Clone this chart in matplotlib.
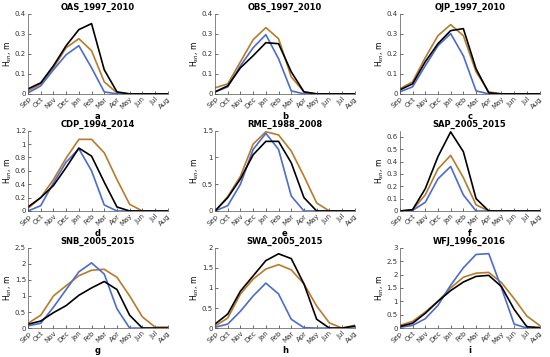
import matplotlib
matplotlib.use('Agg')
import matplotlib.pyplot as plt
import numpy as np

# data
months = ['Sep', 'Oct', 'Nov', 'Dec', 'Jan', 'Feb', 'Mar', 'Apr', 'May', 'Jun', 'Jul', 'Aug']
titles = ['OAS_1997_2010', 'OBS_1997_2010', 'OJP_1997_2010',
          'CDP_1994_2014', 'RME_1988_2008', 'SAP_2005_2015',
          'SNB_2005_2015', 'SWA_2005_2015', 'WFJ_1996_2016']
letters = ['a', 'b', 'c', 'd', 'e', 'f', 'g', 'h', 'i']

black_a = [0.025, 0.055, 0.14, 0.24, 0.32, 0.35, 0.12, 0.01, 0, 0, 0, 0]
brown_a = [0.015, 0.05, 0.13, 0.23, 0.275, 0.215, 0.06, 0.005, 0, 0, 0, 0]
blue_a = [0.005, 0.04, 0.12, 0.195, 0.24, 0.13, 0.01, 0, 0, 0, 0, 0]

black_b = [0.01, 0.04, 0.13, 0.19, 0.255, 0.25, 0.11, 0.01, 0, 0, 0, 0]
brown_b = [0.03, 0.05, 0.16, 0.27, 0.33, 0.275, 0.085, 0.01, 0, 0, 0, 0]
blue_b = [0.01, 0.035, 0.14, 0.23, 0.295, 0.175, 0.015, 0, 0, 0, 0, 0]

black_c = [0.02, 0.05, 0.16, 0.25, 0.315, 0.325, 0.125, 0.005, 0, 0, 0, 0]
brown_c = [0.025, 0.06, 0.18, 0.29, 0.345, 0.29, 0.11, 0.01, 0, 0, 0, 0]
blue_c = [0.01, 0.035, 0.14, 0.24, 0.30, 0.19, 0.015, 0, 0, 0, 0, 0]

black_d = [0.06, 0.2, 0.38, 0.65, 0.94, 0.82, 0.43, 0.06, 0, 0, 0, 0]
brown_d = [0.04, 0.2, 0.47, 0.79, 1.07, 1.07, 0.87, 0.47, 0.1, 0, 0, 0]
blue_d = [0.0, 0.08, 0.42, 0.73, 0.93, 0.6, 0.09, 0.0, 0, 0, 0, 0]

black_e = [0.0, 0.25, 0.6, 1.05, 1.3, 1.3, 0.9, 0.25, 0, 0, 0, 0]
brown_e = [0.0, 0.27, 0.65, 1.25, 1.48, 1.42, 1.12, 0.65, 0.15, 0, 0, 0]
blue_e = [0.0, 0.1, 0.5, 1.15, 1.45, 1.15, 0.28, 0, 0, 0, 0, 0]

black_f = [0, 0.01, 0.18, 0.44, 0.64, 0.48, 0.1, 0, 0, 0, 0, 0]
brown_f = [0, 0.01, 0.13, 0.34, 0.45, 0.27, 0.05, 0, 0, 0, 0, 0]
blue_f = [0, 0.005, 0.07, 0.26, 0.36, 0.13, 0, 0, 0, 0, 0, 0]

black_g = [0.12, 0.22, 0.48, 0.7, 1.02, 1.25, 1.45, 1.2, 0.4, 0, 0, 0]
brown_g = [0.15, 0.4, 1.0, 1.32, 1.63, 1.8, 1.83, 1.58, 1.0, 0.35, 0.03, 0.03]
blue_g = [0.07, 0.15, 0.65, 1.2, 1.75, 2.03, 1.68, 0.6, 0, 0, 0, 0]

black_h = [0.1, 0.35, 0.92, 1.3, 1.68, 1.85, 1.73, 1.1, 0.22, 0, 0, 0.05]
brown_h = [0.05, 0.25, 0.85, 1.22, 1.47, 1.58, 1.45, 1.1, 0.55, 0.13, 0, 0.07]
blue_h = [0.02, 0.1, 0.42, 0.8, 1.12, 0.85, 0.22, 0.01, 0, 0, 0, 0]

black_i = [0.06, 0.18, 0.55, 1.0, 1.4, 1.72, 1.93, 1.97, 1.55, 0.7, 0.05, 0.02]
brown_i = [0.1, 0.25, 0.6, 1.0, 1.5, 1.9, 2.05, 2.08, 1.7, 1.1, 0.45, 0.1]
blue_i = [0.03, 0.1, 0.35, 0.85, 1.6, 2.25, 2.75, 2.78, 1.5, 0.15, 0, 0]

blacks = [black_a, black_b, black_c, black_d, black_e, black_f, black_g, black_h, black_i]
browns = [brown_a, brown_b, brown_c, brown_d, brown_e, brown_f, brown_g, brown_h, brown_i]
blues = [blue_a, blue_b, blue_c, blue_d, blue_e, blue_f, blue_g, blue_h, blue_i]

ylims = [0.4, 0.4, 0.4, 1.2, 1.5, 0.65, 2.5, 2, 3]
ysteps = [0.1, 0.1, 0.1, 0.2, 0.5, 0.1, 0.5, 0.5, 0.5]

# axes layout (figure fractions)
lefts = [0.051, 0.391, 0.727]
bottoms = [0.737, 0.409, 0.081]
w, h = 0.254, 0.225

fig = plt.figure(figsize=(5.5, 3.57), dpi=100)
x = np.arange(len(months))

for k in range(9):
    r, c = divmod(k, 3)
    ax = fig.add_axes([lefts[c], bottoms[r], w, h])
    ax.plot(x, browns[k], color='#b87a2a', lw=1.2)
    ax.plot(x, blues[k], color='#4a6cd0', lw=1.2)
    ax.plot(x, blacks[k], color='black', lw=1.2)
    ax.set_xlim(0, 11)
    ax.set_ylim(0, ylims[k])
    ax.set_yticks(np.round(np.arange(0, ylims[k] + 1e-9, ysteps[k]), 2))
    ax.set_yticklabels(['%g' % v for v in ax.get_yticks()])
    ax.set_xticks(x)
    ax.set_xticklabels(months, rotation=45, ha='right', rotation_mode='anchor')
    ax.tick_params(labelsize=5, direction='in', length=2, width=0.5, pad=1.5, colors='#333333')
    for s in ['top', 'right']:
        ax.spines[s].set_visible(False)
    for s in ['left', 'bottom']:
        ax.spines[s].set_linewidth(0.5)
        ax.spines[s].set_color('#555555')
    ax.set_title(titles[k], fontsize=6, fontweight='bold', pad=3)
    ax.set_ylabel(r'H$_{sn}$, m', fontsize=5.5, labelpad=0.5)
    ax.set_xlabel(letters[k], fontsize=6, fontweight='bold', labelpad=1)

plt.savefig('out.png', dpi=100)
